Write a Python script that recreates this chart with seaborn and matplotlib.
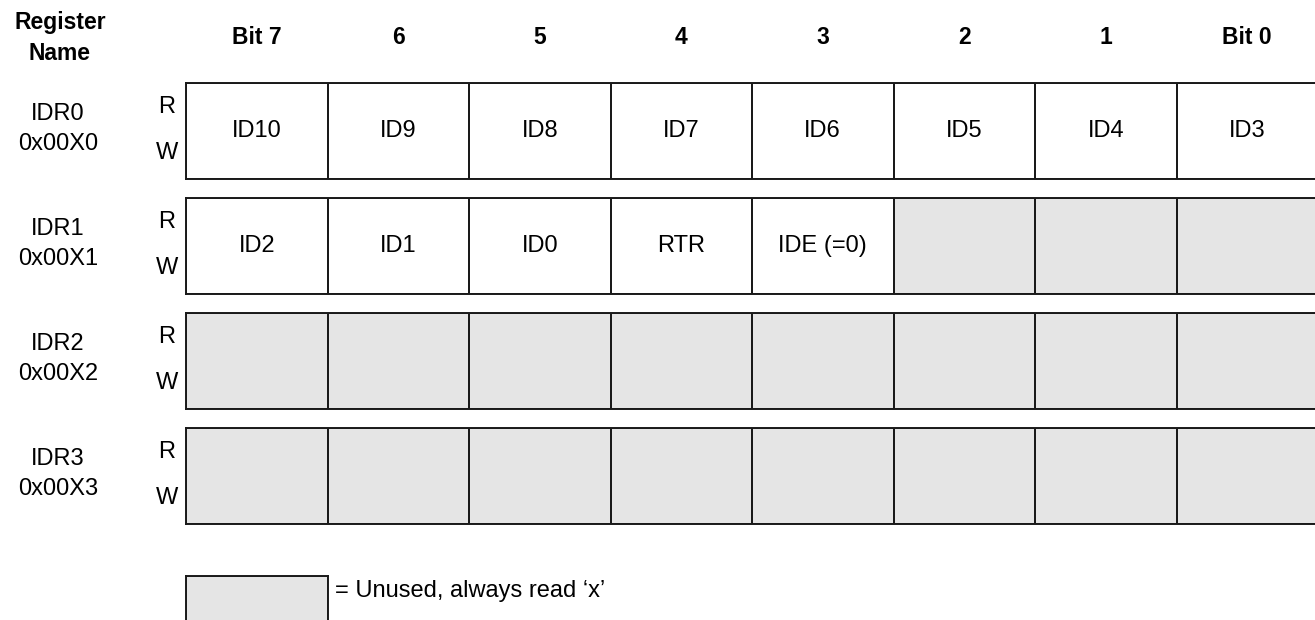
import numpy as np
import seaborn as sns
import matplotlib.pyplot as plt
import matplotlib.colors as mcolors

sns.set_style("white")
plt.rcParams['font.family'] = ['Liberation Sans', 'DejaVu Sans']
plt.rcParams['text.color'] = 'black'

# data
registers = ['IDR0', 'IDR1', 'IDR2', 'IDR3']
addresses = ['0x00X0', '0x00X1', '0x00X2', '0x00X3']
bit_headers = ['Bit 7', '6', '5', '4', '3', '2', '1', 'Bit 0']
fields = [
    ['ID10', 'ID9', 'ID8', 'ID7', 'ID6', 'ID5', 'ID4', 'ID3'],
    ['ID2', 'ID1', 'ID0', 'RTR', 'IDE (=0)', '', '', ''],
    ['', '', '', '', '', '', '', ''],
    ['', '', '', '', '', '', '', ''],
]
legend_text = '= Unused, always read \u2018x\u2019'

# layout (pixels)
W, H = 1315, 620
x0, cell_w = 186, 141.5
row_top0, row_h, row_gap = 83, 96, 19
gray = '#e5e5e5'
edge = '#1a1a1a'
fs = 17
cmap = mcolors.ListedColormap([gray, 'white'])

fig = plt.figure(figsize=(W / 100, H / 100), dpi=100)
bg = fig.add_axes([0, 0, 1, 1])
bg.set_xlim(0, W)
bg.set_ylim(H, 0)
bg.axis('off')


def cell_axes(left, top, width, height):
    return fig.add_axes([left / W, 1 - (top + height) / H, width / W, height / H])


def draw_row(ax, labels):
    used = np.array([[1 if s else 0 for s in labels]])
    sns.heatmap(used, ax=ax, cmap=cmap, vmin=0, vmax=1, cbar=False,
                annot=np.array([labels]), fmt='', linewidths=1.4, linecolor=edge,
                xticklabels=False, yticklabels=False,
                annot_kws={'size': fs, 'color': 'black'})
    for s in ax.spines.values():
        s.set_visible(True)
        s.set_linewidth(1.4)
        s.set_color(edge)


# header
bg.text(60, 38, 'Register\nName', ha='center', va='center', fontsize=fs - 0.5,
        fontweight='bold', linespacing=1.5)
for i, b in enumerate(bit_headers):
    bg.text(x0 + cell_w * (i + 0.5), 38, b, ha='center', va='center',
            fontsize=fs - 0.5, fontweight='bold')

for r, (name, addr, labels) in enumerate(zip(registers, addresses, fields)):
    top = row_top0 + r * (row_h + row_gap)
    ax = cell_axes(x0, top, cell_w * len(labels), row_h)
    draw_row(ax, labels)
    bg.text(58, top + row_h / 2 - 2, name + '\n' + addr, ha='center', va='center',
            fontsize=fs, linespacing=1.45)
    bg.text(167, top + 24, 'R', ha='center', va='center', fontsize=fs)
    bg.text(167, top + 70, 'W', ha='center', va='center', fontsize=fs)

# legend
lax = cell_axes(x0, 576, cell_w, 60)
draw_row(lax, [''])
bg.text(x0 + cell_w + 8, 591, legend_text, ha='left', va='center', fontsize=fs)

fig.savefig('out.png', dpi=100)
